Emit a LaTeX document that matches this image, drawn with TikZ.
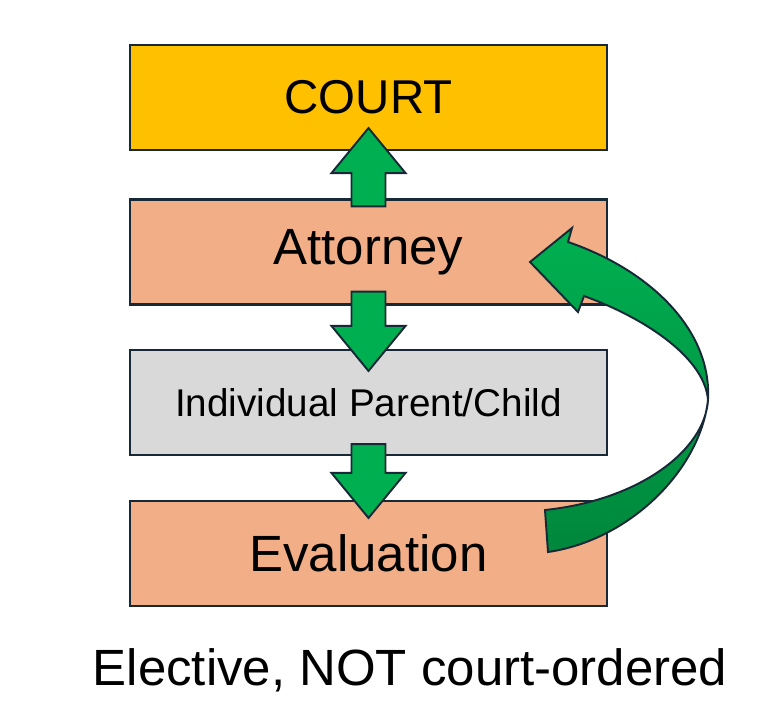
\documentclass[tikz,border=0pt]{standalone}
\usepackage{fontspec}
\setmainfont{Liberation Sans}
\usetikzlibrary{calc, positioning}
\definecolor{courtgold}{RGB}{255, 192, 0}
\definecolor{salmon1}{RGB}{242, 174, 134}
\definecolor{grey1}{RGB}{217, 217, 217}
\definecolor{navy1}{RGB}{23, 40, 55}
\definecolor{arrowgreen}{RGB}{0, 176, 80}
\definecolor{darkgreen}{RGB}{0, 135, 60}
\tikzset{
  stage/.style={draw=navy1, line width=1.2pt, minimum width=9.54cm, minimum height=2.1cm, inner sep=0pt},
  blockarrow/.style={draw=navy1, line width=1.1pt, fill=arrowgreen, line join=miter}
}
% vertical block arrow: #1 start, #2 tip, #3 = 1 down / -1 up
\newcommand{\vblock}[3]{
  \path[blockarrow] let \p1=(#1), \p2=(#2) in
    ({\x1-0.34cm},\y1) -- ({\x1-0.34cm},{\y2+#3*0.9cm}) -- ({\x1-0.74cm},{\y2+#3*0.9cm})
    -- (\x1,\y2) -- ({\x1+0.74cm},{\y2+#3*0.9cm}) -- ({\x1+0.34cm},{\y2+#3*0.9cm})
    -- ({\x1+0.34cm},\y1) -- cycle;
}

\begin{document}
\begin{tikzpicture}
  \useasboundingbox (0,0) rectangle (15.32,-14.46);

  % Stages
  \node[stage, fill=courtgold, font=\fontsize{27}{30}\selectfont] (court) at (7.37,-1.95) {COURT};
  \node[stage, fill=salmon1, font=\fontsize{29}{32}\selectfont] (attorney) at (7.37,-5.04) {Attorney};
  \node[stage, fill=grey1, font=\fontsize{22}{25}\selectfont] (parent) at (7.37,-8.05) {Individual Parent/Child};
  \node[stage, fill=salmon1, font=\fontsize{29}{32}\selectfont] (evaluation) at (7.37,-11.07) {Evaluation};

  % Block arrows
  \vblock{$(attorney.north)+(0,-0.16)$}{$(court.south)+(0,0.46)$}{-1}
  \vblock{$(attorney.south)+(0,0.28)$}{$(parent.north)+(0,-0.44)$}{1}
  \vblock{$(parent.south)+(0,0.24)$}{$(evaluation.north)+(0,-0.36)$}{1}

  % Curved arrow back to attorney
  \coordinate (tail) at (10.9,-10.2);
  \coordinate (tip) at (10.6,-5.24);
  \coordinate (twist) at (14.16,-8.0);
  \path[blockarrow, top color=arrowgreen, bottom color=darkgreen]
    (tail) .. controls (12.8,-10.0) and (14.1,-9.0) .. (twist)
    .. controls (14.1,-7.2) and (13.0,-6.4) .. (11.68,-5.92)
    -- (11.56,-6.24) -- (tip) -- (11.44,-4.56) -- (11.36,-4.84)
    .. controls (13.0,-5.4) and (14.24,-6.6) .. (twist)
    .. controls (14.0,-9.4) and (12.6,-10.8) .. (10.96,-11.04) -- cycle;

  % Caption
  \node[font=\fontsize{29}{33}\selectfont] (note) at (8.2,-13.4) {Elective, NOT court-ordered};
\end{tikzpicture}
\end{document}
